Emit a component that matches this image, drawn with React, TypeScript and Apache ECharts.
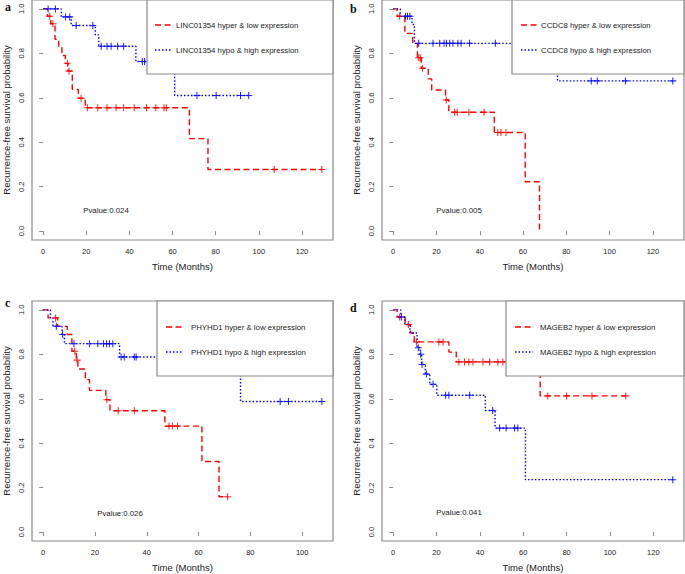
import React, { useEffect, useRef } from "react";
import * as echarts from "echarts";

// ---------- data ----------
const xTicks = [0, 20, 40, 60, 80, 100, 120];
const yTicks = [0, 0.2, 0.4, 0.6, 0.8, 1.0];
const panelLetters = ["a", "b", "c", "d"];
const pValues = ["Pvalue:0.024", "Pvalue:0.005", "Pvalue:0.026", "Pvalue:0.041"];
const lowNames = [
  "LINC01354 hyper & low expression",
  "CCDC8 hyper & low expression",
  "PHYHD1 hyper & low expression",
  "MAGEB2 hyper & low expression",
];
const highNames = [
  "LINC01354 hypo & high expression",
  "CCDC8 hypo & high expression",
  "PHYHD1 hypo & high expression",
  "MAGEB2 hypo & high expression",
];

// panel a
const aLowTimes = [0, 2, 3.5, 5.5, 7.2, 8.7, 10.3, 11.5, 13.5, 16.3, 19.5, 67.8, 76.4];
const aLowSurv = [1, 0.967, 0.933, 0.863, 0.826, 0.79, 0.755, 0.72, 0.638, 0.598, 0.555, 0.416, 0.277];
const aLowCensor = [3, 4.5, 11.2, 12, 17.6, 20.5, 25.3, 29.6, 33.8, 37.3, 42.2, 47.9, 52.2, 56, 57.1, 107.1, 129.2];
const aHighTimes = [0, 8.4, 13, 24.2, 25.8, 43, 61];
const aHighSurv = [1, 0.964, 0.925, 0.883, 0.832, 0.763, 0.61];
const aHighCensor = [2.3, 5.7, 10.4, 12.3, 15.3, 23, 26.9, 29.6, 31.5, 34.5, 37.3, 46, 47, 71.3, 80.2, 91.5, 95.3];

// panel b
const bLowTimes = [0, 1.8, 5.4, 9, 11.2, 13, 16.2, 17.8, 24.2, 25.7, 46.7, 61, 67.6];
const bLowSurv = [1, 0.967, 0.89, 0.845, 0.78, 0.733, 0.685, 0.635, 0.59, 0.535, 0.444, 0.222, 0];
const bLowCensor = [3, 11.8, 12.5, 13.5, 24.5, 28.4, 29.6, 35, 42, 48.3, 49.8, 52.1];
const bHighTimes = [0, 3.3, 8.7, 9.8, 75.9];
const bHighSurv = [1, 0.967, 0.93, 0.845, 0.676];
const bHighCensor = [5.7, 6.6, 7.7, 11.8, 18.4, 21.5, 23.5, 24.6, 26.1, 27.6, 29.9, 31.4, 35.3, 47.2, 91.5, 94.3, 107.3, 129.2];

// panel c
const cLowTimes = [0, 1.9, 5.6, 9.3, 11.1, 12.8, 13.4, 16.3, 17.9, 24.2, 25.8, 47, 61.3, 67.9];
const cLowSurv = [1, 0.964, 0.926, 0.889, 0.814, 0.774, 0.734, 0.686, 0.638, 0.596, 0.546, 0.477, 0.318, 0.159];
const cLowCensor = [4.8, 12.2, 13.1, 24.6, 29, 35.2, 48.6, 49.9, 51.9, 71.2];
const cHighTimes = [0, 2.8, 3.8, 7.3, 8.2, 29.5, 76.2];
const cHighSurv = [1, 0.963, 0.926, 0.889, 0.848, 0.788, 0.588];
const cHighCensor = [5.1, 7.5, 11.9, 17.9, 21.1, 23.3, 24.5, 25.6, 26.9, 30.1, 31.3, 35.2, 35.9, 91.5, 94.7, 107.6];

// panel d
const dLowTimes = [0, 1.8, 5.5, 8, 9.7, 25.7, 29.1, 67.8];
const dLowSurv = [1, 0.968, 0.934, 0.896, 0.856, 0.81, 0.766, 0.613];
const dLowCensor = [3, 7, 10.7, 21.1, 23, 30.3, 32.9, 34.9, 36.8, 41.4, 44.5, 48.3, 50.6, 71.3, 80, 91.7, 107.3];
const dHighTimes = [0, 3.5, 5.4, 7.7, 11, 12.4, 13.1, 14.8, 16.9, 20.1, 42.5, 47, 61];
const dHighSurv = [1, 0.968, 0.934, 0.896, 0.83, 0.8, 0.754, 0.711, 0.665, 0.616, 0.547, 0.468, 0.236];
const dHighCensor = [3.8, 11.6, 12.7, 13.3, 15.3, 18.4, 24.2, 25.7, 35.3, 45.9, 49.1, 52.1, 56, 57.5, 129];

const panels = [
  { low: [aLowTimes, aLowSurv, aLowCensor], high: [aHighTimes, aHighSurv, aHighCensor] },
  { low: [bLowTimes, bLowSurv, bLowCensor], high: [bHighTimes, bHighSurv, bHighCensor] },
  { low: [cLowTimes, cLowSurv, cLowCensor], high: [cHighTimes, cHighSurv, cHighCensor] },
  { low: [dLowTimes, dLowSurv, dLowCensor], high: [dHighTimes, dHighSurv, dHighCensor] },
];

// ---------- layout ----------
const FONT = "'Liberation Sans', Arial, Helvetica, sans-serif";
const GRAY = "#8a8a8a";
const TXT = "#222";
const grids = [
  { left: 31, top: 0, width: 302, height: 240 },
  { left: 382, top: 0, width: 302, height: 240 },
  { left: 31, top: 301, width: 302, height: 240 },
  { left: 382, top: 301, width: 302, height: 240 },
];
const legendBoxes = [
  { x: 147, y: 0, w: 186, h: 74, y1: 25, y2: 50, l0: 155, l1: 172, tx: 176 },
  { x: 512, y: 0, w: 172, h: 74, y1: 25, y2: 50, l0: 521, l1: 538, tx: 541 },
  { x: 157, y: 301, w: 176, h: 75, y1: 327, y2: 352, l0: 166, l1: 183, tx: 191 },
  { x: 506, y: 301, w: 178, h: 75, y1: 327, y2: 352, l0: 515, l1: 533, tx: 540 },
];
const pPos = [
  [106, 210],
  [459, 210],
  [120, 513],
  [459, 512],
];
const letterPos = [
  [5, 7],
  [350, 8.5],
  [5, 303],
  [350, 307.5],
];

const PLUS = "path://M-0.15,-1H0.15V-0.15H1V0.15H0.15V1H-0.15V0.15H-1V-0.15H-0.15Z";
const RED = "#ff0000";
const BLUE = "#0000ff";

function survAt(times: number[], surv: number[], t: number) {
  let v = surv[0];
  for (let i = 0; i < times.length; i++) if (times[i] <= t) v = surv[i];
  return v;
}

function curveData(times: number[], surv: number[], censor: number[]) {
  const pts = times.map((t, i) => [t, surv[i]]);
  const last = times[times.length - 1];
  const end = Math.max(last, ...censor);
  if (end > last) pts.push([end, surv[surv.length - 1]]);
  return pts;
}

function buildOption() {
  const xAxis: any[] = [];
  const yAxis: any[] = [];
  const series: any[] = [];
  const graphic: any[] = [];

  panels.forEach((p, k) => {
    const allEnds = [...p.low[0], ...p.low[2], ...p.high[0], ...p.high[2]];
    const xmax = Math.max(...allEnds);
    const ext = 0.04 * xmax;
    xAxis.push({
      type: "value",
      gridIndex: k,
      min: -ext,
      max: xmax + ext,
      axisLine: { show: false },
      splitLine: { show: false },
      axisTick: { show: true, length: 4, inside: false, customValues: xTicks, lineStyle: { color: GRAY } },
      axisLabel: {
        customValues: xTicks,
        margin: 7,
        fontSize: 7.5,
        color: TXT,
        fontFamily: FONT,
      },
      name: "Time (Months)",
      nameLocation: "middle",
      nameGap: 21,
      nameTextStyle: { fontSize: 9.5, color: TXT, fontFamily: FONT },
    });
    yAxis.push({
      type: "value",
      gridIndex: k,
      min: -0.04,
      max: 1.04,
      axisLine: { show: false },
      splitLine: { show: false },
      axisTick: { show: true, length: 4, customValues: yTicks, lineStyle: { color: GRAY } },
      axisLabel: {
        customValues: yTicks,
        rotate: 90,
        margin: 7,
        fontSize: 7.5,
        color: TXT,
        fontFamily: FONT,
        formatter: (v: number) => v.toFixed(1),
      },
      name: "Recurrence-free survival probability",
      nameLocation: "middle",
      nameGap: 21,
      nameTextStyle: { fontSize: 9.5, color: TXT, fontFamily: FONT },
    });

    const groups: [any[], string, number[] | string, string][] = [
      [p.low, RED, [6, 3.5], lowNames[k]],
      [p.high, BLUE, [1.5, 2], highNames[k]],
    ];
    groups.forEach(([g, color, dash, name]) => {
      const [times, surv, censor] = g as number[][];
      series.push({
        type: "line",
        name,
        xAxisIndex: k,
        yAxisIndex: k,
        step: "end",
        symbol: "none",
        showSymbol: false,
        silent: true,
        data: curveData(times, surv, censor),
        lineStyle: { color, width: 1.4, type: dash },
        z: 2,
      });
      series.push({
        type: "scatter",
        name: name + " censored",
        xAxisIndex: k,
        yAxisIndex: k,
        symbol: PLUS,
        symbolSize: 7,
        silent: true,
        itemStyle: { color, opacity: 0.85 },
        data: censor.map((t) => [t, survAt(times, surv, t)]),
        z: 3,
      });
    });

    const lb = legendBoxes[k];
    graphic.push({
      type: "rect",
      shape: { x: lb.x, y: lb.y, width: lb.w, height: lb.h },
      style: { fill: "#fff", stroke: GRAY, lineWidth: 1.2 },
      z: 10,
    });
    graphic.push({
      type: "line",
      shape: { x1: lb.l0, y1: lb.y1, x2: lb.l1, y2: lb.y1 },
      style: { stroke: RED, lineWidth: 1.4, lineDash: [6, 3.5] },
      z: 11,
    });
    graphic.push({
      type: "line",
      shape: { x1: lb.l0, y1: lb.y2, x2: lb.l1, y2: lb.y2 },
      style: { stroke: BLUE, lineWidth: 1.4, lineDash: [1.5, 2] },
      z: 11,
    });
    graphic.push({
      type: "text",
      x: lb.tx,
      y: lb.y1,
      style: { text: lowNames[k], fontSize: 7.8, fill: TXT, fontFamily: FONT, verticalAlign: "middle" },
      z: 11,
    });
    graphic.push({
      type: "text",
      x: lb.tx,
      y: lb.y2,
      style: { text: highNames[k], fontSize: 7.8, fill: TXT, fontFamily: FONT, verticalAlign: "middle" },
      z: 11,
    });
    graphic.push({
      type: "text",
      x: pPos[k][0],
      y: pPos[k][1],
      style: { text: pValues[k], fontSize: 7.8, fill: TXT, fontFamily: FONT, align: "center", verticalAlign: "middle" },
      z: 11,
    });
    graphic.push({
      type: "text",
      x: letterPos[k][0],
      y: letterPos[k][1],
      style: {
        text: panelLetters[k],
        fontSize: 12,
        fontWeight: "bold",
        fill: "#111",
        fontFamily: "'Liberation Serif', 'Times New Roman', serif",
        verticalAlign: "middle",
      },
      z: 11,
    });
  });

  return {
    animation: false,
    backgroundColor: "#fff",
    grid: grids.map((g) => ({ ...g, show: true, borderColor: GRAY, borderWidth: 1.2, backgroundColor: "transparent" })),
    xAxis,
    yAxis,
    series,
    graphic,
  };
}

export default function App() {
  const ref = useRef<HTMLDivElement>(null);
  useEffect(() => {
    if (!ref.current) return;
    const chart = echarts.init(ref.current, undefined, { renderer: "svg" });
    chart.setOption(buildOption() as any);
    return () => chart.dispose();
  }, []);
  return (
    <div
      ref={ref}
      style={{ position: "fixed", left: 0, top: 0, width: 685, height: 574, background: "#fff" }}
    />
  );
}
